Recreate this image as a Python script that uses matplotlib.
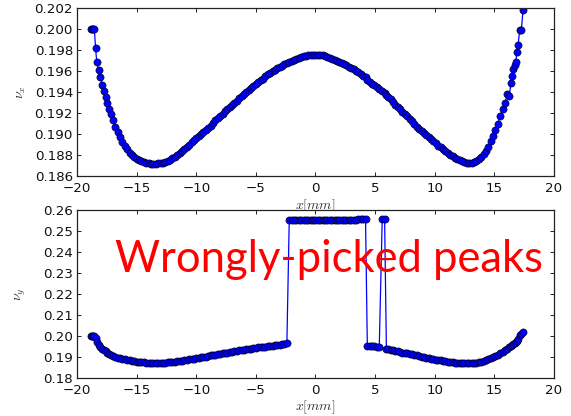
import matplotlib
matplotlib.use("Agg")
import matplotlib.pyplot as plt

plt.rcParams["mathtext.fontset"] = "cm"
plt.rcParams["font.family"] = ["DejaVu Sans"]

# scan positions [mm]
x_pos = [
    # left edge
    -18.85, -18.75, -18.65, -18.55, -18.45, -18.35, -18.2, -18.05, -17.9, -17.75,
    -17.6, -17.45, -17.3, -17.15, -17.0,
    # left half
    -16.8, -16.6, -16.4, -16.2, -16.0, -15.8, -15.6, -15.4, -15.2, -15.0,
    -14.8, -14.6, -14.4, -14.2, -14.0, -13.8, -13.6, -13.4, -13.2, -13.0,
    -12.8, -12.6, -12.4, -12.2, -12.0, -11.8, -11.6, -11.4, -11.2, -11.0,
    -10.8, -10.6, -10.4, -10.2, -10.0, -9.8, -9.6, -9.4, -9.2, -9.0,
    -8.8, -8.6, -8.4, -8.2, -8.0, -7.8, -7.6, -7.4, -7.2, -7.0,
    -6.8, -6.6, -6.4, -6.2, -6.0, -5.8, -5.6, -5.4, -5.2, -5.0,
    -4.8, -4.6, -4.4, -4.2, -4.0, -3.8, -3.6, -3.4, -3.2, -3.0,
    -2.8, -2.6, -2.4, -2.2, -2.0, -1.8, -1.6, -1.4, -1.2, -1.0,
    -0.8, -0.6, -0.4, -0.2, 0.0, 0.2, 0.4, 0.6, 0.8, 1.0,
    1.2, 1.4, 1.6, 1.8, 2.0, 2.2, 2.4, 2.6, 2.8, 3.0,
    3.2, 3.4, 3.6, 3.8, 4.0, 4.2,
    # middle
    4.35, 4.55, 4.75, 4.95, 5.15, 5.35, 5.6, 5.8, 5.95,
    # right half
    6.1, 6.3, 6.5, 6.7, 6.9, 7.1, 7.3, 7.5, 7.7, 7.9,
    8.1, 8.3, 8.5, 8.7, 8.9, 9.1, 9.3, 9.5, 9.7, 9.9,
    10.1, 10.3, 10.5, 10.7, 10.9, 11.1, 11.3, 11.5, 11.7, 11.9,
    12.1, 12.3, 12.5, 12.7, 12.9, 13.1, 13.3, 13.5, 13.7, 13.9,
    14.1, 14.3, 14.5, 14.7, 14.9, 15.1, 15.3, 15.5, 15.7, 15.9,
    # right edge
    16.1, 16.25, 16.4, 16.5, 16.6, 16.7, 16.8, 16.9, 17.0, 17.13,
    17.27, 17.41,
]

# horizontal tune
nu_x = [
    0.2000, 0.2000, 0.2000, 0.2000, 0.1982, 0.1969, 0.1961, 0.1954, 0.1947, 0.1941,
    0.1935, 0.1930, 0.1924, 0.1919, 0.1913,

    0.1907, 0.1902, 0.1897, 0.1892, 0.1889, 0.1886, 0.1882, 0.1880, 0.1878, 0.1876,
    0.1875, 0.1874, 0.1873, 0.18725, 0.18721, 0.18718, 0.18717, 0.18717, 0.18719, 0.18722,
    0.18727, 0.18735, 0.18745, 0.18757, 0.1877, 0.18785, 0.1880, 0.1882, 0.1884, 0.1886,
    0.1888, 0.1890, 0.1892, 0.1894, 0.1896, 0.1898, 0.1900, 0.1902, 0.1904, 0.1906,
    0.1908, 0.1911, 0.1913, 0.1915, 0.1917, 0.1919, 0.1922, 0.1924, 0.1926, 0.1928,
    0.1930, 0.1932, 0.1934, 0.1936, 0.1938, 0.1940, 0.1942, 0.1944, 0.1946, 0.1948,
    0.1950, 0.1952, 0.1953, 0.1955, 0.1957, 0.1958, 0.1960, 0.1961, 0.1963, 0.1964,
    0.1965, 0.1967, 0.1968, 0.1969, 0.1970, 0.1971, 0.1972, 0.19728, 0.19735, 0.19742,
    0.19748, 0.19752, 0.19755, 0.19757, 0.19758, 0.19757, 0.19755, 0.19751, 0.19745, 0.19738,
    0.1973, 0.1972, 0.1971, 0.1970, 0.1969, 0.1968, 0.1967, 0.1966, 0.1964, 0.1963,
    0.1962, 0.1960, 0.1959, 0.1957, 0.1955, 0.1954,

    0.1952, 0.1950, 0.1948, 0.1947, 0.1945, 0.1943, 0.1941, 0.1939, 0.1937,

    0.1935, 0.1933, 0.1931, 0.1928, 0.1926, 0.1924, 0.1921, 0.1919, 0.1917, 0.1914,
    0.1912, 0.1910, 0.1907, 0.1905, 0.1903, 0.1901, 0.1899, 0.1897, 0.1895, 0.1893,
    0.1891, 0.1889, 0.1888, 0.1886, 0.1884, 0.1882, 0.1880, 0.1879, 0.1877, 0.1876,
    0.1875, 0.1874, 0.1873, 0.18724, 0.18721, 0.18725, 0.18731, 0.18742, 0.1876, 0.1878,
    0.1881, 0.1884, 0.1888, 0.1893, 0.1898, 0.1904, 0.1910, 0.1917, 0.1924, 0.1930,

    0.1938, 0.1936, 0.1949, 0.1955, 0.1962, 0.1966, 0.1969, 0.1978, 0.1985, 0.1999,
    0.1999, 0.2018,
]
# last horizontal point, above the plotted range
x_tail, nu_x_tail = 17.55, 0.2045

# vertical tune
nu_y = [
    0.2002, 0.2002, 0.2001, 0.2001, 0.1989, 0.1974, 0.1960, 0.1949, 0.1941, 0.1934,
    0.1927, 0.1921, 0.1916, 0.1911, 0.1906,

    0.1901, 0.1898, 0.1896, 0.1893, 0.1890, 0.1887, 0.1884, 0.1882, 0.1880, 0.1879,
    0.1878, 0.1876, 0.1875, 0.1874, 0.1874, 0.1873, 0.1873, 0.1873, 0.1873, 0.1873,
    0.1874, 0.1874, 0.1875, 0.1876, 0.1877, 0.1878, 0.1880, 0.1881, 0.1883, 0.1885,
    0.1887, 0.1889, 0.1891, 0.1893, 0.1895, 0.1897, 0.1899, 0.1901, 0.1903, 0.1906,
    0.1908, 0.1910, 0.1912, 0.1914, 0.1916, 0.1918, 0.1920, 0.1922, 0.1924, 0.1926,
    0.1928, 0.1930, 0.1932, 0.1934, 0.1936, 0.1937, 0.1939, 0.1941, 0.1942, 0.1944,
    0.1946, 0.1947, 0.1949, 0.1950, 0.1952, 0.1953, 0.1955, 0.1957, 0.1958, 0.1960,
    0.1961, 0.1963, 0.1965, 0.2554, 0.2554, 0.2554, 0.2554, 0.2554, 0.2554, 0.2554,
    0.2554, 0.2554, 0.2554, 0.2554, 0.2554, 0.2554, 0.2554, 0.2554, 0.2554, 0.2554,
    0.2554, 0.2554, 0.2554, 0.2554, 0.2554, 0.2554, 0.2554, 0.2554, 0.2554, 0.2555,
    0.2555, 0.2555, 0.2556, 0.2556, 0.2556, 0.2556,

    0.1954, 0.1953, 0.1952, 0.1951, 0.1950, 0.1948, 0.2557, 0.2557, 0.1939,

    0.1937, 0.1934, 0.1932, 0.1929, 0.1927, 0.1925, 0.1922, 0.1920, 0.1918, 0.1915,
    0.1913, 0.1911, 0.1908, 0.1906, 0.1903, 0.1900, 0.1898, 0.1895, 0.1893, 0.1890,
    0.1888, 0.1886, 0.1884, 0.1882, 0.1880, 0.1878, 0.1876, 0.1875, 0.1873, 0.1872,
    0.1871, 0.1871, 0.1870, 0.1870, 0.1870, 0.1870, 0.1871, 0.1873, 0.1875, 0.1878,
    0.1881, 0.1885, 0.1890, 0.1895, 0.1900, 0.1905, 0.1911, 0.1918, 0.1925, 0.1932,

    0.1940, 0.1946, 0.1952, 0.1956, 0.1961, 0.1966, 0.1972, 0.1977, 0.1984, 0.2004,
    0.2012, 0.2018,
]

x_ticks = [-20, -15, -10, -5, 0, 5, 10, 15, 20]
nux_ticks = [0.186, 0.188, 0.190, 0.192, 0.194, 0.196, 0.198, 0.200, 0.202]
nuy_ticks = [0.18, 0.19, 0.20, 0.21, 0.22, 0.23, 0.24, 0.25, 0.26]

fig = plt.figure(figsize=(5.71, 4.16), dpi=100)
ax1 = fig.add_axes([0.135, 0.577, 0.835, 0.403])
ax2 = fig.add_axes([0.135, 0.091, 0.835, 0.404])

style = dict(color="#0000ff", marker="o", markersize=5.2, markerfacecolor="#0000ff",
             markeredgecolor="black", markeredgewidth=0.4, linewidth=0.9)

ax1.plot(x_pos + [x_tail], nu_x + [nu_x_tail], **style)
ax2.plot(x_pos, nu_y, **style)

for ax, yt, lab, fmt in ((ax1, nux_ticks, r"$\nu_x$", "%.3f"),
                         (ax2, nuy_ticks, r"$\nu_y$", "%.2f")):
    ax.set_xlim(-20, 20)
    ax.set_ylim(yt[0], yt[-1])
    ax.set_xticks(x_ticks)
    ax.set_xticklabels([str(t).replace("-", "\u2212") for t in x_ticks])
    ax.set_yticks(yt)
    ax.set_yticklabels([fmt % t for t in yt])
    ax.tick_params(direction="in", length=3, width=0.6, top=True, right=True,
                   labelsize=9.6, colors="black", labelcolor="#111111")
    ax.tick_params(axis="x", pad=4.2)
    ax.tick_params(axis="y", pad=3)
    for sp in ax.spines.values():
        sp.set_linewidth(0.9)
        sp.set_color("#222222")
    ax.set_xlabel(r"$x[mm]$", fontsize=10, color="#333333")
    ax.set_ylabel(lab, fontsize=10, color="#333333")
    ax.yaxis.set_label_coords(-0.103, 0.5)

ax1.xaxis.set_label_coords(0.5, -0.13)
ax2.xaxis.set_label_coords(0.5, -0.12)

note = fig.text(115 / 571, 1 - 272 / 416, "Wrongly-picked peaks", color="red",
                fontsize=30, family=["Lato", "DejaVu Sans"], ha="left", va="baseline")
fig.canvas.draw()
w = note.get_window_extent().width
note.set_fontsize(30 * 427 / w)

fig.savefig("out.png", dpi=100)
